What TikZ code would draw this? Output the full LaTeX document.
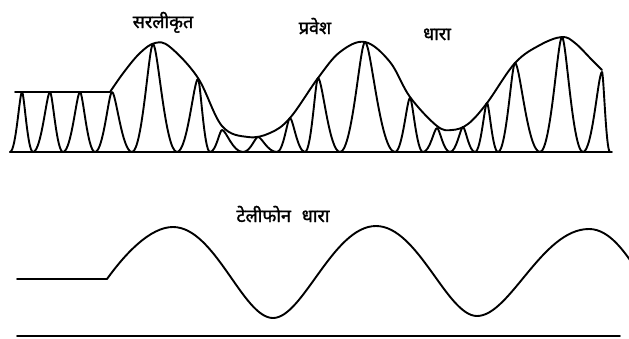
\documentclass[tikz,border=0pt]{standalone}
\usepackage{fontspec}
\newfontfamily\deva[Script=Devanagari, FakeBold=1.6]{Noto Sans}
\begin{document}
\begin{tikzpicture}[x=1pt,y=-1pt,
  wave/.style={line width=1.9pt, line join=round, line cap=round},
  lbl/.style={font=\deva\fontsize{18}{21}\selectfont, anchor=base, inner sep=0pt}]
\useasboundingbox (0,0) rectangle (629,338);
\clip (0,0) rectangle (629,338);
% ---- upper panel: modulated current ----
\draw[wave] (10,152) -- (612,152);
\draw[wave] (10,152) \foreach \a/\p/\h/\b in {10/22/92/33, 33/50/92/63, 63/80/92/95, 95/112/92/132, 132/153/44/177, 177/198/79/210, 210/222/130/243, 243/258/137/277, 277/290/118/305, 305/318/78/340, 340/365/42/395, 395/410/98/423, 423/437/128/450, 450/463/127/475, 475/487/103/498, 498/515/63/540, 540/562/37/583, 583/602/72/610}
  { .. controls +({0.5*(\p-\a)},0) and +({-0.2*(\p-\a)},0) .. (\p,\h)
    .. controls +({0.2*(\b-\p)},0) and +({-0.5*(\b-\p)},0) .. (\b,152) };
% envelope
\draw[wave] (15,92) -- (110,92);
\draw[wave] plot[smooth, tension=0.6] coordinates {(110,92) (124,72) (140,53) (155,43) (170,47) (198,78) (222,126) (248,137) (270,133) (290,118) (318,78) (340,52) (365,42) (390,62) (410,97) (437,126) (452,130) (468,124) (487,103) (515,63) (540,45) (562,37) (575,43) (592,60) (602,70)};
\node[lbl] (l1) at (163,28) {सरलीकृत};
\node[lbl] (l2) at (315,34) {प्रवेश};
\node[lbl] (l3) at (437,40) {धारा};
% ---- lower panel: telephone current ----
\draw[wave] (17,336) -- (620,336);
\draw[wave] (17,279) -- (107,279) .. controls (125,254) and (150,227) .. (173,227)
  .. controls +(42,0) and +(-30,0) .. (273,318)
  .. controls +(30,0) and +(-43,0) .. (376,226)
  .. controls +(42,0) and +(-30,0) .. (477,316)
  .. controls +(33,0) and +(-47,0) .. (589,229)
  .. controls +(40,0) and +(-27,0) .. (679,318);
\node[lbl] (l4) at (283,222) {टेलीफोन\hspace{0.6em}धारा};
\end{tikzpicture}
\end{document}
